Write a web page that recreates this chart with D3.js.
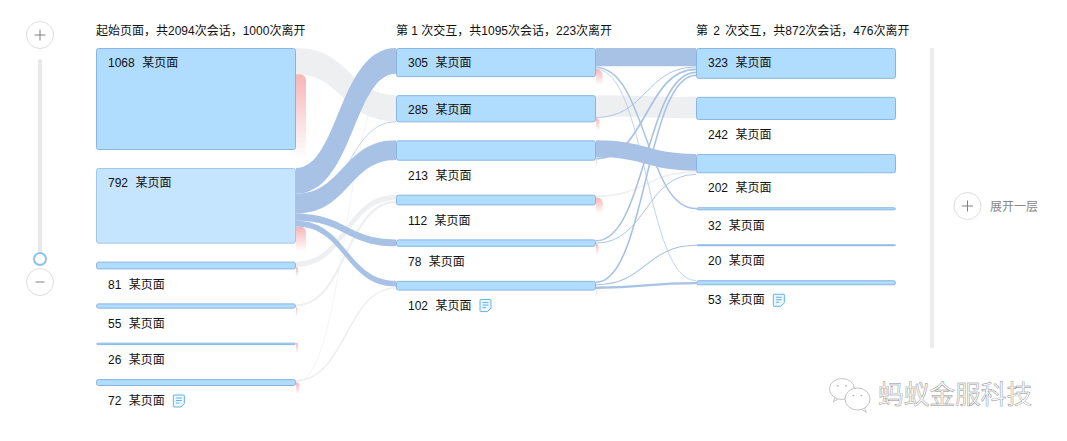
<!DOCTYPE html>
<html lang="zh">
<head>
    <meta charset="UTF-8">
    <title>页面流转</title>
    <script src="https://d3js.org/d3.v7.min.js"></script>
    <style>
        html, body {
            margin: 0;
            background: #fff;
        }
        svg {
            display: block;
        }
        text {
            font-family: "Liberation Sans", "Noto Sans CJK SC", sans-serif;
            font-size: 12px;
            fill: #111;
            white-space: pre;
        }
    </style>
</head>
<body>
    <svg id="canvas" width="1067" height="441"></svg>
    <script>
        const columnTitles = [
            "起始页面，共2094次会话，1000次离开",
            "第 1 次交互，共1095次会话，223次离开",
            "第 2 次交互，共872次会话，476次离开"
        ]
        const pageName = "某页面"
        const startValues = [1068, 792, 81, 55, 26, 72]
        const firstValues = [305, 285, 213, 112, 78, 102]
        const secondValues = [323, 242, 202, 32, 20, 53]

        // [source row, target row, sessions]
        const firstMuted = [[0, 1, 275], [2, 3, 55], [3, 3, 40], [5, 5, 30], [5, 0, 3]]
        const firstActive = [[1, 0, 270], [1, 2, 205], [1, 1, 5], [1, 4, 72], [1, 5, 60]]
        const secondMuted = [[1, 1, 225], [3, 2, 30]]
        const secondActive = [
            [0, 0, 190], [0, 3, 28], [0, 5, 8],
            [1, 0, 18],
            [2, 2, 175], [2, 0, 32],
            [4, 0, 30], [4, 2, 18],
            [5, 0, 30], [5, 4, 20], [5, 5, 45]
        ]
        const selectedNode = "0-1"
        const expandLabel = "展开一层"
        const brandName = "蚂蚁金服科技"

        const svg = d3.select("#canvas")
        const defs = svg.append("defs")
        const dropFade = defs.append("linearGradient")
            .attr("id", "dropFade")
            .attr("x1", 0).attr("y1", 0).attr("x2", 0).attr("y2", 1)
        dropFade.append("stop").attr("offset", "0%").attr("stop-color", "#f8b4b6")
        dropFade.append("stop").attr("offset", "100%").attr("stop-color", "#f8b4b6").attr("stop-opacity", 0)

        const nodeWidth = 200
        const topY = 48
        const xScale = d3.scalePoint().domain([0, 1, 2]).range([96, 696])
        const heightScale = d3.scaleLinear().domain([0, 1068]).range([0, 102])
        const dropWidth = d3.scaleLinear().domain([0, 120]).range([0, 10]).clamp(true)

        // stack the nodes, the gap is wider when the label sits below a node
        function layoutColumn(values, col) {
            let y = topY
            return values.map((value, row) => {
                const h = heightScale(value)
                const inside = h >= 25
                const node = {id: col + "-" + row, col, row, value, x: xScale(col), y, h, inside, outUsed: 0, inUsed: 0}
                y += h + (inside ? 18 : 34)
                return node
            })
        }

        const columns = [startValues, firstValues, secondValues].map(layoutColumn)

        function buildLinks(col, muted, active) {
            const all = muted.map(d => ({d, muted: true}))
                .concat(active.map(d => ({d, muted: false})))
            const links = d3.groupSort(all, g => g[0].d[0], e => e.d[0])
                .flatMap(src => all.filter(e => e.d[0] === src))
                .map(e => ({
                    source: columns[col][e.d[0]],
                    target: columns[col + 1][e.d[1]],
                    value: e.d[2],
                    muted: e.muted,
                    w: heightScale(e.d[2])
                }))
            links.forEach(l => {
                l.y0 = l.source.y + l.source.outUsed
                l.source.outUsed += l.w
                l.y1 = l.target.y + l.target.inUsed
                l.target.inUsed += l.w
            })
            return links
        }

        const links = buildLinks(0, firstMuted, firstActive).concat(buildLinks(1, secondMuted, secondActive))

        const lineGen = d3.linkHorizontal().x(d => d[0]).y(d => d[1])

        function ribbon(l) {
            const x0 = l.source.x + nodeWidth
            const x1 = l.target.x
            const mid = (x0 + x1) / 2
            const dy = l.y1 - l.y0
            // push the two edges apart on steep bands so they keep some body
            const shift = (dy < 0 ? -1 : 1) * 0.28 * l.w * Math.min(1, Math.abs(dy) / 100)
            const p = d3.path()
            p.moveTo(x0, l.y0)
            p.bezierCurveTo(mid + shift, l.y0, mid + shift, l.y1, x1, l.y1)
            p.lineTo(x1, l.y1 + l.w)
            p.bezierCurveTo(mid - shift, l.y1 + l.w, mid - shift, l.y0 + l.w, x0, l.y0 + l.w)
            p.closePath()
            return p.toString()
        }

        function drawLinks(group, data, color) {
            group.selectAll("path.band")
                .data(data.filter(l => l.w >= 5))
                .enter().append("path")
                .attr("class", "band")
                .attr("d", ribbon)
                .attr("fill", color)
            group.selectAll("path.thin")
                .data(data.filter(l => l.w < 5))
                .enter().append("path")
                .attr("class", "thin")
                .attr("d", l => lineGen({
                    source: [l.source.x + nodeWidth, l.y0 + l.w / 2],
                    target: [l.target.x, l.y1 + l.w / 2]
                }))
                .attr("fill", "none")
                .attr("stroke", color)
                .attr("stroke-width", l => Math.max(l.w * 0.55, 0.7))
        }

        drawLinks(svg.append("g"), links.filter(l => l.muted), "#eeeff1")

        // drop offs: what is left of a node after its outgoing links
        const dropNodes = columns.slice(0, 2).flat()
        svg.append("g").selectAll("path")
            .data(dropNodes)
            .enter().append("path")
            .attr("d", n => {
                const lost = n.value - heightScale.invert(n.outUsed)
                const w = dropWidth(lost)
                const r = Math.min(w, 6)
                const x = n.x + nodeWidth
                const y = n.y + n.outUsed
                const len = heightScale(lost) + 8
                const p = d3.path()
                p.moveTo(x, y)
                p.lineTo(x + w - r, y)
                p.arcTo(x + w, y, x + w, y + r, r)
                p.lineTo(x + w, y + len)
                p.lineTo(x, y + len)
                p.closePath()
                return p.toString()
            })
            .attr("fill", "url(#dropFade)")

        drawLinks(svg.append("g"), links.filter(l => !l.muted), "#a8c2e6")

        const nodes = columns.flat()
        svg.append("g").selectAll("rect")
            .data(nodes)
            .enter().append("rect")
            .attr("x", n => n.x + 0.5)
            .attr("y", n => n.y + 0.5)
            .attr("width", nodeWidth - 1)
            .attr("height", n => Math.max(n.h - 1, 0.8))
            .attr("rx", 2)
            .attr("fill", n => n.id === selectedNode ? "#c5e4fd" : "#b0dcfd")
            .attr("stroke", n => n.id === selectedNode ? "#a3c8ec" : "#88b6e3")

        const labels = svg.append("g").selectAll("text")
            .data(nodes)
            .enter().append("text")
            .attr("x", n => n.x + 12)
            .attr("y", n => n.inside ? n.y + 14.7 : n.y + n.h + 15)
            .attr("dy", "0.35em")
            .attr("word-spacing", 0.4)
            .text(n => n.value + "  " + pageName)

        svg.append("g").selectAll("text")
            .data(columnTitles)
            .enter().append("text")
            .attr("x", (d, i) => xScale(i))
            .attr("y", 30.7)
            .attr("dy", "0.35em")
            .attr("word-spacing", (d, i) => i === 2 ? 2 : 0)
            .text(d => d)

        // note icon after the last label of every column
        labels.filter(n => n.row === 5).each(function (n) {
            const left = n.x + 12 + this.getComputedTextLength() + 8
            const top = +d3.select(this).attr("y") - 6.5
            const icon = svg.append("g").attr("transform", "translate(" + left + "," + top + ")")
            icon.append("path")
                .attr("d", "M1 .5H11a.5 .5 0 0 1 .5 .5V9L8 12.5H1a.5 .5 0 0 1 -.5 -.5V1a.5 .5 0 0 1 .5 -.5Z")
                .attr("fill", "#eef7fe")
                .attr("stroke", "#62b2e8")
            icon.append("path")
                .attr("d", "M3 3.5H9M3 6H9M3 8.5H6.5")
                .attr("fill", "none")
                .attr("stroke", "#62b2e8")
        })

        function roundButton(cx, cy, withVertical) {
            const g = svg.append("g").attr("transform", "translate(" + cx + "," + cy + ")")
            g.append("circle")
                .attr("r", 13.5)
                .attr("fill", "#fff")
                .attr("stroke", "#dedede")
            g.append("path")
                .attr("d", withVertical ? "M-5.5 0H5.5M0 -5.5V5.5" : "M-4.5 0H4.5")
                .attr("stroke", "#808080")
                .attr("fill", "none")
        }

        // zoom control on the left
        svg.append("rect")
            .attr("x", 38).attr("y", 59)
            .attr("width", 4).attr("height", 195)
            .attr("rx", 2)
            .attr("fill", "#e9e9e9")
        svg.append("circle")
            .attr("cx", 40).attr("cy", 259)
            .attr("r", 6)
            .attr("fill", "#fff")
            .attr("stroke", "#8cc5ea")
            .attr("stroke-width", 2)
        roundButton(40, 35, true)
        roundButton(40, 282, false)

        // expand control on the right
        svg.append("rect")
            .attr("x", 930).attr("y", 48)
            .attr("width", 4).attr("height", 300)
            .attr("fill", "#ececec")
        roundButton(967.5, 206, true)
        svg.append("text")
            .attr("x", 990).attr("y", 207)
            .attr("dy", "0.35em")
            .style("fill", "#888")
            .text(expandLabel)

        // watermark
        const mark = svg.append("g")
        function bubble(cx, cy, rx, ry, tailX, tailY) {
            mark.append("path")
                .attr("d", "M" + (cx + tailX) + " " + (cy + ry * 0.8) + "L" + (cx + tailX * 1.25) + " " + (cy + tailY) + "L" + (cx + tailX * 0.5) + " " + (cy + ry * 0.9))
                .attr("fill", "#fff")
                .attr("stroke", "#c4c4c4")
            mark.append("ellipse")
                .attr("cx", cx).attr("cy", cy)
                .attr("rx", rx).attr("ry", ry)
                .attr("fill", "#fff")
                .attr("stroke", "#c4c4c4")
            mark.append("path")
                .attr("d", "M" + (cx - rx * 0.4) + " " + (cy - ry * 0.3) + "h1.6M" + (cx + rx * 0.25) + " " + (cy - ry * 0.3) + "h1.6")
                .attr("stroke", "#9a9a9a")
        }
        bubble(842, 389, 12.5, 10.5, -7, 13)
        bubble(857.5, 399, 12.5, 11, 7, 13.5)
        mark.append("text")
            .attr("x", 878).attr("y", 395)
            .attr("dy", "0.36em")
            .style("font-size", "25.7px")
            .style("fill", "#fcfcfc")
            .style("stroke", "#8c8c8c")
            .style("stroke-width", 0.45)
            .text(brandName)
    </script>
</body>
</html>
